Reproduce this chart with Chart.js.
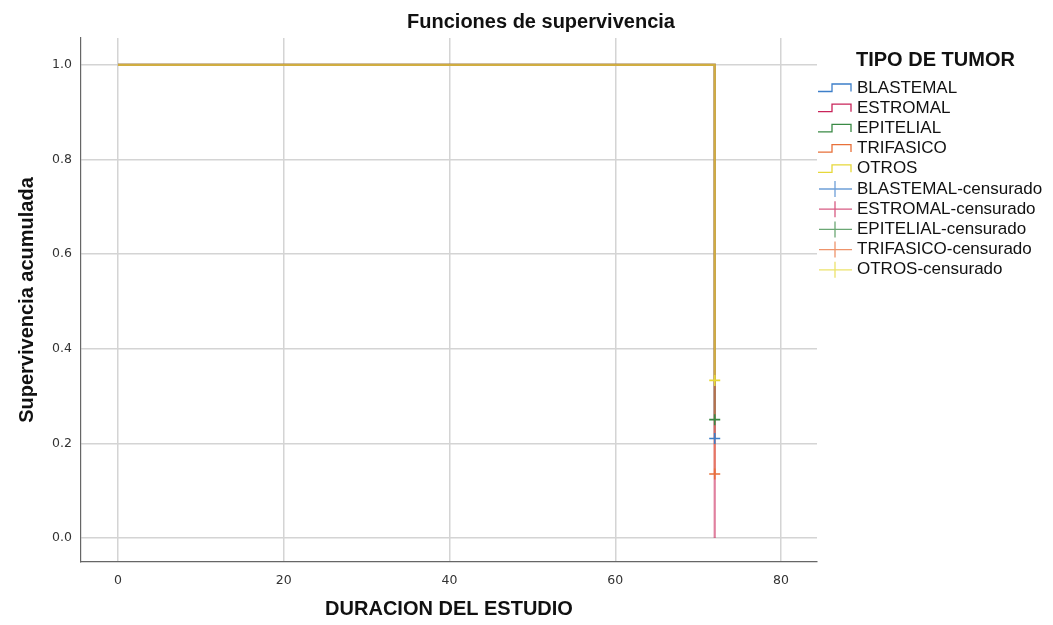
<!DOCTYPE html>
<html>
<head>
<meta charset="utf-8">
<title>Funciones de supervivencia</title>
<script src="https://cdn.jsdelivr.net/npm/chart.js@4.4.1/dist/chart.umd.min.js"></script>
<style>
  html, body { margin: 0; padding: 0; background: #ffffff; }
  #wrap { position: relative; width: 1053px; height: 625px; }
</style>
</head>
<body>
<div id="wrap"><canvas id="km" width="1053" height="625"></canvas></div>
<script>
// Kaplan-Meier curves by tumour type
const groups = ['BLASTEMAL', 'ESTROMAL', 'EPITELIAL', 'TRIFASICO', 'OTROS'];
const startTime = [0, 0, 0, 0, 0];
const startSurvival = [1, 1, 1, 1, 1];
const eventTime = [72, 72, 72, 72, 72];
const survivalAfterEvent = [0.21, 0.0, 0.25, 0.135, 0.333];
const censorTime = [72, null, 72, 72, 72];
const censorSurvival = [0.21, null, 0.25, 0.135, 0.333];

// axis ticks
const xTicks = [0, 20, 40, 60, 80];
const yTicks = [0, 0.2, 0.4, 0.6, 0.8, 1.0];

// text
const chartTitle = 'Funciones de supervivencia';
const legendTitle = 'TIPO DE TUMOR';
const xTitle = 'DURACION DEL ESTUDIO';
const yTitle = 'Supervivencia acumulada';
const censorSuffix = '-censurado';

// styling
const palette = ['rgb(61,127,201)', 'rgb(201,36,90)', 'rgb(58,138,69)', 'rgb(232,112,58)', 'rgb(230,216,58)'];
const alpha = (c, a) => c.replace('rgb(', 'rgba(').replace(')', ',' + a + ')');

// survival curves: hold the start value, then drop at the event time
const lineSets = groups.map((g, i) => ({
  label: g,
  type: 'line',
  data: [{ x: startTime[i], y: startSurvival[i] }, { x: eventTime[i], y: survivalAfterEvent[i] }],
  stepped: 'before',
  borderColor: alpha(palette[i], 0.58),
  borderWidth: 2.2,
  pointRadius: 0,
  fill: false,
  order: 10 - i
}));

// censored observations
const censorSets = groups.map((g, i) => ({
  label: g + censorSuffix,
  type: 'scatter',
  data: censorTime[i] === null ? [] : [{ x: censorTime[i], y: censorSurvival[i] }],
  pointStyle: 'cross',
  pointRadius: 5.5,
  pointHoverRadius: 5.5,
  borderColor: palette[i],
  backgroundColor: palette[i],
  borderWidth: 1.6,
  showLine: false,
  order: 1
}));

// chart title and legend drawn beside the plot
const sideText = {
  id: 'sideText',
  afterDraw(chart) {
    const ctx = chart.ctx;
    ctx.save();
    ctx.fillStyle = '#111';
    ctx.textBaseline = 'middle';
    ctx.textAlign = 'center';
    ctx.font = 'bold 20px "Liberation Sans", Arial, sans-serif';
    ctx.fillText(chartTitle, 541, 22);

    ctx.textAlign = 'left';
    ctx.fillText(legendTitle, 856, 60);

    ctx.font = '17px "Liberation Sans", Arial, sans-serif';
    const x0 = 818, rowTop = 88, rowH = 20.2;
    groups.forEach((g, i) => {
      const y = rowTop + i * rowH;
      ctx.strokeStyle = palette[i];
      ctx.lineWidth = 1.3;
      ctx.beginPath();
      ctx.moveTo(x0, y + 3.5);
      ctx.lineTo(x0 + 14, y + 3.5);
      ctx.lineTo(x0 + 14, y - 4);
      ctx.lineTo(x0 + 33, y - 4);
      ctx.lineTo(x0 + 33, y + 3.5);
      ctx.stroke();
      ctx.fillStyle = '#111';
      ctx.fillText(g, 857, y);
    });
    groups.forEach((g, i) => {
      const y = rowTop + (i + 5) * rowH;
      ctx.strokeStyle = alpha(palette[i], 0.75);
      ctx.lineWidth = 1.3;
      ctx.beginPath();
      ctx.moveTo(x0 + 1, y);
      ctx.lineTo(x0 + 34, y);
      ctx.moveTo(x0 + 17, y - 8);
      ctx.lineTo(x0 + 17, y + 8);
      ctx.stroke();
      ctx.fillStyle = '#111';
      ctx.fillText(g + censorSuffix, 857, y);
    });
    ctx.restore();
  }
};

const tickFont = { family: '"DejaVu Sans", sans-serif', size: 12.5 };
const titleFont = { family: '"Liberation Sans", Arial, sans-serif', size: 20, weight: 'bold', lineHeight: 1.2 };

new Chart(document.getElementById('km'), {
  type: 'line',
  data: { datasets: [...lineSets, ...censorSets] },
  plugins: [sideText],
  options: {
    responsive: false,
    animation: false,
    devicePixelRatio: 1,
    layout: { padding: { left: 0, right: 236, top: 38, bottom: 0 } },
    plugins: {
      legend: { display: false },
      title: { display: false },
      tooltip: { enabled: false }
    },
    scales: {
      x: {
        type: 'linear',
        min: -4.46,
        max: 84.34,
        afterBuildTicks: s => { s.ticks = xTicks.map(v => ({ value: v })); },
        afterFit: s => { s.height = 63; },
        ticks: { font: tickFont, color: '#333', padding: 11, maxRotation: 0, callback: v => String(v) },
        grid: { color: '#d4d4d4', lineWidth: 1.5, drawTicks: false },
        border: { display: true, color: '#666', width: 1.2 },
        title: { display: true, text: xTitle, color: '#111', font: titleFont, padding: { top: 0, bottom: 4 } }
      },
      y: {
        type: 'linear',
        min: -0.051,
        max: 1.057,
        afterBuildTicks: s => { s.ticks = yTicks.map(v => ({ value: v })); },
        afterFit: s => { s.width = 81; },
        ticks: { font: tickFont, color: '#333', padding: 9, callback: v => Number(v).toFixed(1) },
        grid: { color: '#d4d4d4', lineWidth: 1.5, drawTicks: false },
        border: { display: true, color: '#666', width: 1.2 },
        title: { display: true, text: yTitle, color: '#111', font: titleFont, padding: { top: 15, bottom: 0 } }
      }
    }
  }
});
</script>
</body>
</html>
